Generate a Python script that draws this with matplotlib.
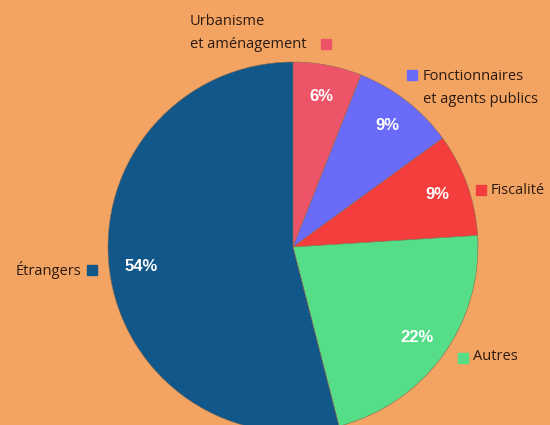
import matplotlib
matplotlib.use('Agg')
import matplotlib.pyplot as plt

categories = ['Urbanisme\net aménagement', 'Fonctionnaires\net agents publics',
              'Fiscalité', 'Autres', 'Étrangers']
values = [6, 9, 9, 22, 54]
colors = ['#EE5468', '#6B6BFA', '#F43E3E', '#55DD88', '#12578A']
bg = '#F4A462'

fig = plt.figure(figsize=(5.5, 4.25), dpi=100, facecolor=bg)
ax = fig.add_axes([0, 0, 1, 1])
ax.set_facecolor(bg)

wedges, texts, autotexts = ax.pie(
    values, colors=colors, startangle=90, counterclock=False,
    center=(293, 425 - 247), radius=185, autopct='%d%%', pctdistance=0.83,
    wedgeprops=dict(edgecolor='#8a6a50', linewidth=0.4),
    textprops=dict(color='white', fontsize=12, fontweight='bold',
                   family='Liberation Sans'))

ax.set_xlim(0, 550)
ax.set_ylim(0, 425)
ax.set_aspect('equal')
ax.axis('off')

# label positions in pixels from top-left: (text x, text y, ha, square x, square y)
label_pos = [(190, 33, 'left', 326, 44),
             (423, 88, 'left', 412, 75),
             (491, 190, 'left', 481, 190),
             (473, 357, 'left', 463, 358),
             (81, 270, 'right', 92, 270)]
for cat, col, (tx, ty, ha, sx, sy) in zip(categories, colors, label_pos):
    ax.text(tx, 425 - ty, cat, ha=ha, va='center', fontsize=10.5, color='#2a1a10',
            family='Open Sans', linespacing=1.75)
    ax.plot(sx, 425 - sy, marker='s', markersize=7.5, color=col, linestyle='none')

fig.savefig('out.png', dpi=100, facecolor=bg)
